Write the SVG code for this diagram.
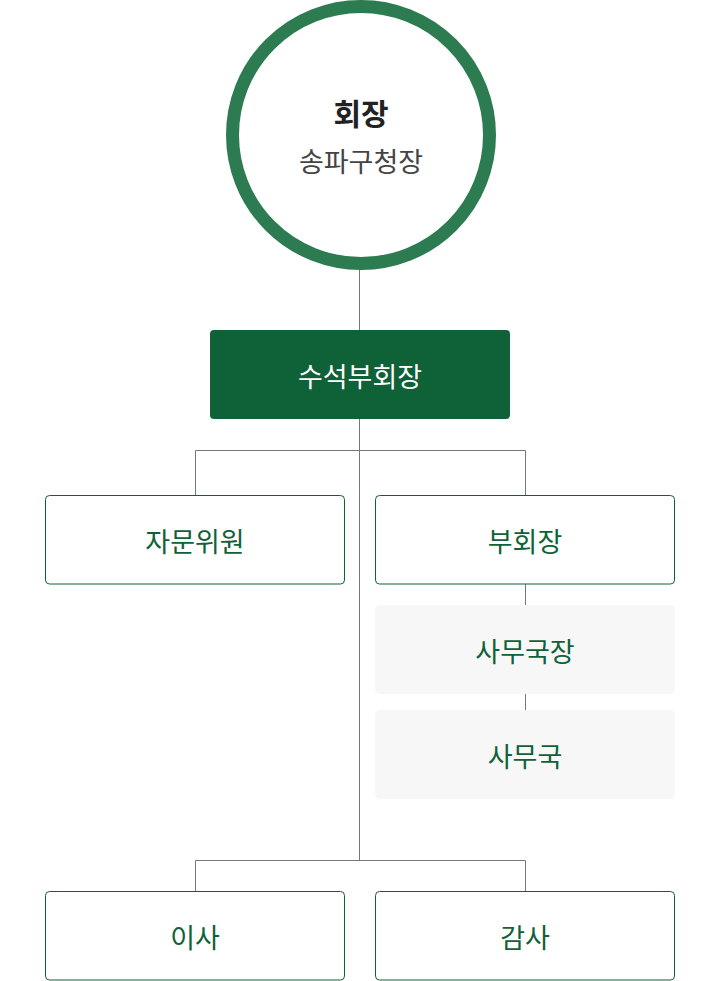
<svg xmlns="http://www.w3.org/2000/svg" width="720" height="981" viewBox="0 0 720 981">
<style>
.ln{stroke:#777;stroke-width:1;fill:none}
.box{fill:#fff;stroke:#0f6137;stroke-width:1}
.gbox{fill:#f7f7f7}
.t{font-family:"Noto Sans CJK KR","Noto Sans",sans-serif;font-size:27px;font-weight:400;fill:#0f6137;text-anchor:middle;dominant-baseline:central}
</style>
<rect width="720" height="981" fill="#fff"/>
<g id="connectors">
<path class="ln" d="M359.5 268V330M359.5 419V860.5M195.5 495V450.5H525.5V495M525.5 584V605M525.5 694V710M195.5 891V860.5H525.5V891"/>
</g>
<g id="president">
<circle cx="361" cy="135" r="128.5" fill="#fff" stroke="#2d7b51" stroke-width="13"/>
<text x="361" y="112" class="t" style="font-weight:bold;fill:#222;font-size:30px">회장</text>
<text x="361" y="160" class="t" style="fill:#444">송파구청장</text>
</g>
<g id="senior-vp">
<rect x="210" y="330" width="300" height="89" rx="4" fill="#0f6137"/>
<text x="360" y="375" class="t" style="fill:#fff">수석부회장</text>
</g>
<g id="advisor">
<rect class="box" x="45.5" y="495.5" width="299" height="88.5" rx="4"/>
<text x="195" y="540" class="t">자문위원</text>
</g>
<g id="vp">
<rect class="box" x="375.5" y="495.5" width="299" height="88.5" rx="4"/>
<text x="525" y="540" class="t">부회장</text>
</g>
<g id="secgen">
<rect class="gbox" x="375" y="605" width="300" height="89" rx="5"/>
<text x="525" y="650" class="t">사무국장</text>
</g>
<g id="secretariat">
<rect class="gbox" x="375" y="710" width="300" height="89" rx="5"/>
<text x="525" y="755" class="t">사무국</text>
</g>
<g id="director">
<rect class="box" x="45.5" y="891.5" width="299" height="88.5" rx="4"/>
<text x="195" y="936" class="t">이사</text>
</g>
<g id="auditor">
<rect class="box" x="375.5" y="891.5" width="299" height="88.5" rx="4"/>
<text x="525" y="936" class="t">감사</text>
</g>
</svg>
